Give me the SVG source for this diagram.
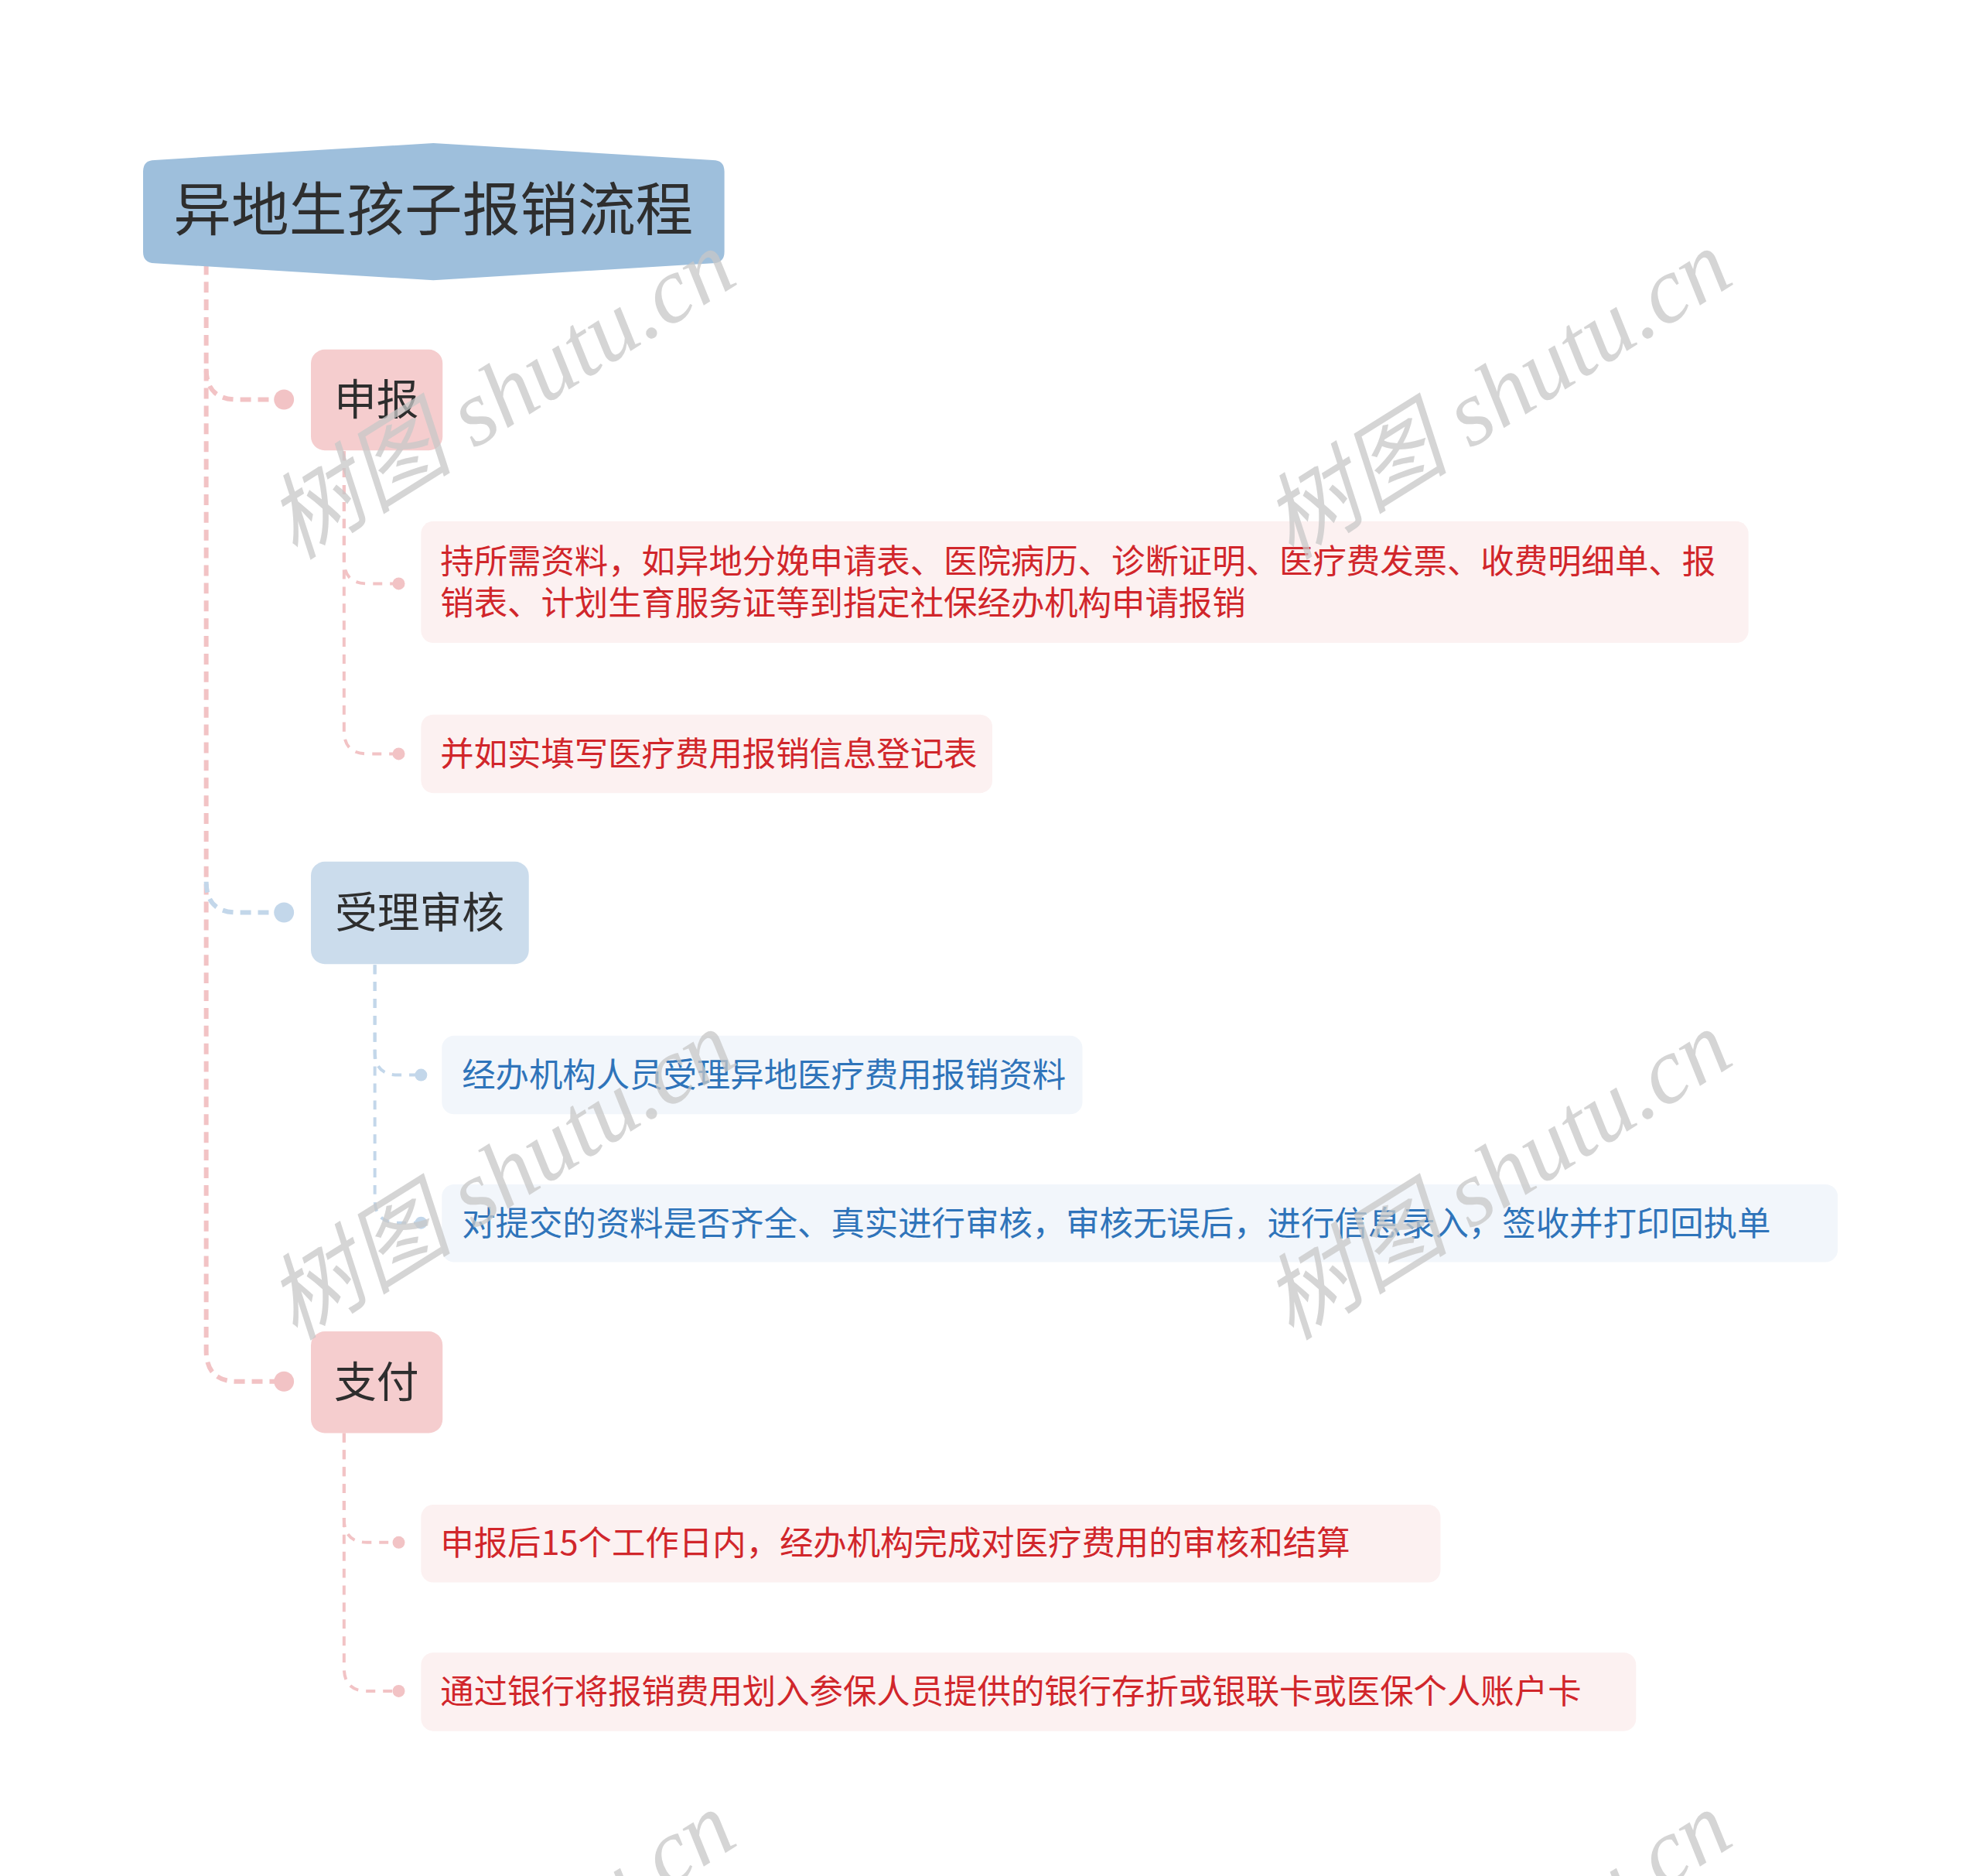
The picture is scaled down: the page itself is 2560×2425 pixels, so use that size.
<svg xmlns="http://www.w3.org/2000/svg" width="2560" height="2425" viewBox="0 0 2560 2425">
<style>
.cjk{font-family:"Noto Sans CJK SC","Noto Sans",sans-serif}
.title{font-size:75px;fill:#2e2e2e}
.main{font-size:55px;fill:#2e2e2e}
.leaf{font-size:43.6px}
.red{fill:#d1262b}
.blu{fill:#2f74ba}
.pk{fill:none;stroke:#f2c3c5;stroke-width:6;stroke-dasharray:14 9}
.bl{fill:none;stroke:#c3d7ea;stroke-width:6;stroke-dasharray:14 9}
.pks{fill:none;stroke:#f2c3c5;stroke-width:4;stroke-dasharray:12 10}
.bls{fill:none;stroke:#c3d7ea;stroke-width:4;stroke-dasharray:12 10}
.pkd{fill:#f2c3c5}
.bld{fill:#c3d7ea}
.pleaf{fill:#fcf1f1}
.bleaf{fill:#f2f6fb}
.wm{font-family:"Liberation Serif","Noto Sans CJK SC",serif;font-style:italic;font-size:121px;fill:#c8c8c8;opacity:0.75}
</style>
<rect width="2560" height="2425" fill="#ffffff"/>
<g id="diagram" transform="translate(185,185) scale(0.9955) translate(-185,-185)">
<g id="connectors">
<path class="pk" d="M267,342 L267,1753 Q267,1793 307,1793 L368,1793"/>
<path class="pk" d="M267,478 Q267,518 307,518 L368,518"/>
<path class="bl" d="M267,1144 Q267,1184 307,1184 L368,1184"/>
<circle class="pkd" cx="368" cy="518" r="13"/>
<circle class="bld" cx="368" cy="1184" r="13"/>
<circle class="pkd" cx="368" cy="1793" r="13"/>
<path class="pks" d="M446,585 L446,727 Q446,757 476,757 L517,757"/>
<path class="pks" d="M446,585 L446,948 Q446,978 476,978 L517,978"/>
<circle class="pkd" cx="517" cy="757" r="8"/>
<circle class="pkd" cx="517" cy="978" r="8"/>
<path class="bls" d="M486,1252 L486,1365 Q486,1395 516,1395 L546,1395"/>
<path class="bls" d="M486,1252 L486,1557 Q486,1587 516,1587 L546,1587"/>
<circle class="bld" cx="546" cy="1395" r="8"/>
<circle class="bld" cx="546" cy="1587" r="8"/>
<path class="pks" d="M446,1860 L446,1972 Q446,2002 476,2002 L517,2002"/>
<path class="pks" d="M446,1860 L446,2165 Q446,2195 476,2195 L517,2195"/>
<circle class="pkd" cx="517" cy="2002" r="8"/>
<circle class="pkd" cx="517" cy="2195" r="8"/>
</g>
<g id="root">
<path d="M200,207 L562,185 L925,207 Q940,207 940,222 L940,326 Q940,341 925,341 L562,363 L200,341 Q185,341 185,326 L185,222 Q185,207 200,207 Z" fill="#9ebfdc"/>
<text class="cjk title" x="562" y="299" text-anchor="middle">异地生孩子报销流程</text>
</g>
<g id="n-shenbao">
<rect x="403" y="453" width="171" height="131" rx="18" fill="#f5cdce"/>
<text class="cjk main" x="488" y="538" text-anchor="middle">申报</text>
</g>
<g id="n-shenbao-1">
<rect class="pleaf" x="546" y="676" width="1724" height="158" rx="16"/>
<text class="cjk leaf red" x="571" y="744">持所需资料，如异地分娩申请表、医院病历、诊断证明、医疗费发票、收费明细单、报</text>
<text class="cjk leaf red" x="571" y="798">销表、计划生育服务证等到指定社保经办机构申请报销</text>
</g>
<g id="n-shenbao-2">
<rect class="pleaf" x="546" y="927" width="742" height="102" rx="16"/>
<text class="cjk leaf red" x="571" y="994">并如实填写医疗费用报销信息登记表</text>
</g>
<g id="n-shouli">
<rect x="403" y="1118" width="283" height="133" rx="18" fill="#cbdcec"/>
<text class="cjk main" x="544" y="1204" text-anchor="middle">受理审核</text>
</g>
<g id="n-shouli-1">
<rect class="bleaf" x="573" y="1344" width="832" height="102" rx="16"/>
<text class="cjk leaf blu" x="599" y="1411">经办机构人员受理异地医疗费用报销资料</text>
</g>
<g id="n-shouli-2">
<rect class="bleaf" x="573" y="1537" width="1813" height="101" rx="16"/>
<text class="cjk leaf blu" x="599" y="1603">对提交的资料是否齐全、真实进行审核，审核无误后，进行信息录入，签收并打印回执单</text>
</g>
<g id="n-zhifu">
<rect x="403" y="1728" width="171" height="132" rx="18" fill="#f5cdce"/>
<text class="cjk main" x="488" y="1813" text-anchor="middle">支付</text>
</g>
<g id="n-zhifu-1">
<rect class="pleaf" x="546" y="1953" width="1324" height="101" rx="16"/>
<text class="cjk leaf red" x="571" y="2018">申报后15个工作日内，经办机构完成对医疗费用的审核和结算</text>
</g>
<g id="n-zhifu-2">
<rect class="pleaf" x="546" y="2145" width="1578" height="102" rx="16"/>
<text class="cjk leaf red" x="571" y="2211">通过银行将报销费用划入参保人员提供的银行存折或银联卡或医保个人账户卡</text>
</g>
</g>
<g id="watermarks">
<text class="wm" transform="translate(648,510) rotate(-32)" text-anchor="middle" dominant-baseline="central">树图 shutu.cn</text>
<text class="wm" transform="translate(1936,510) rotate(-32)" text-anchor="middle" dominant-baseline="central">树图 shutu.cn</text>
<text class="wm" transform="translate(648,1519) rotate(-32)" text-anchor="middle" dominant-baseline="central">树图 shutu.cn</text>
<text class="wm" transform="translate(1936,1519) rotate(-32)" text-anchor="middle" dominant-baseline="central">树图 shutu.cn</text>
<text class="wm" transform="translate(648,2528) rotate(-32)" text-anchor="middle" dominant-baseline="central">树图 shutu.cn</text>
<text class="wm" transform="translate(1936,2528) rotate(-32)" text-anchor="middle" dominant-baseline="central">树图 shutu.cn</text>
</g>
</svg>
